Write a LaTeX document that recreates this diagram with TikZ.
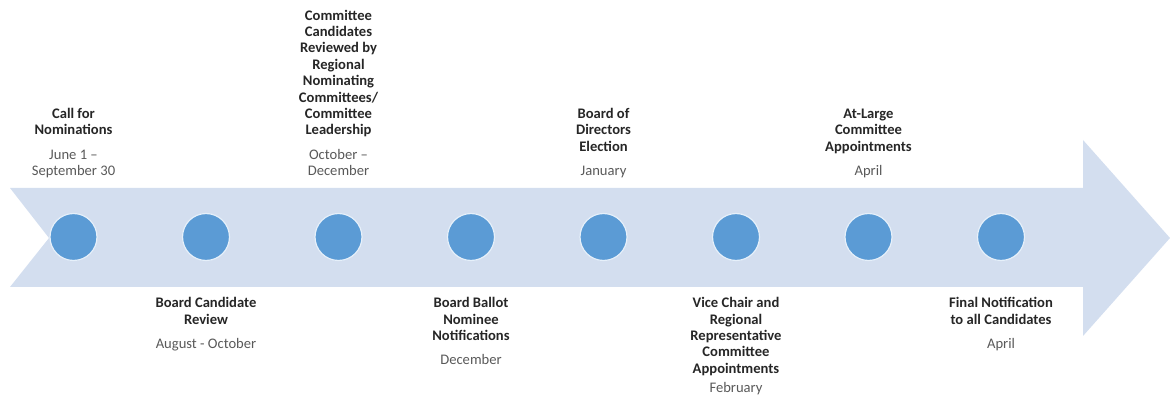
\documentclass[tikz,border=0pt]{standalone}
\usepackage{fontspec}
\setmainfont{Carlito}
\usetikzlibrary{positioning}
\definecolor{arrowfill}{HTML}{D3DEEF}
\definecolor{dotfill}{HTML}{5B9BD5}
\definecolor{dotrim}{HTML}{E6F0FA}
\definecolor{titlegray}{HTML}{262626}
\definecolor{dategray}{HTML}{595959}
\tikzstyle{dot}=[circle, draw=dotrim, line width=1.2pt, fill=dotfill, minimum size=47pt, inner sep=0pt]
\tikzstyle{stagetitle}=[align=center, inner sep=0pt, text=titlegray, font=\fontsize{14.6}{16.4}\selectfont\bfseries]
\tikzstyle{stagedate}=[align=center, inner sep=0pt, text=dategray, font=\fontsize{14.6}{16.4}\selectfont]

\begin{document}
\begin{tikzpicture}[x=1pt,y=1pt]
  \useasboundingbox (0,0) rectangle (1170,-395);
  % timeline arrow
  \fill[arrowfill] (10,-188) -- (1083,-188) -- (1083,-140) -- (1170,-238)
    -- (1083,-336) -- (1083,-287) -- (10,-287) -- (49,-238) -- cycle;

  % dots
  \node[dot] (c1) at (73.5,-237) {};
  \node[dot] (c2) at (206,-237) {};
  \node[dot] (c3) at (338.5,-237) {};
  \node[dot] (c4) at (471,-237) {};
  \node[dot] (c5) at (603.5,-237) {};
  \node[dot] (c6) at (736,-237) {};
  \node[dot] (c7) at (868.5,-237) {};
  \node[dot] (c8) at (1001,-237) {};

  % labels above
  \node[stagedate, above=32pt of c1] (d1) {\strut June 1 --\\September 30\strut};
  \node[stagetitle, above=7.6pt of d1] (t1) {\strut Call for\\Nominations\strut};
  \node[stagedate, above=32pt of c3] (d3) {\strut October --\\December\strut};
  \node[stagetitle, above=7.6pt of d3] (t3) {\strut Committee\\Candidates\\Reviewed by\\Regional\\Nominating\\Committees/\\Committee\\Leadership\strut};
  \node[stagedate, above=32pt of c5] (d5) {\strut January\strut};
  \node[stagetitle, above=7.6pt of d5] (t5) {\strut Board of\\Directors\\Election\strut};
  \node[stagedate, above=32pt of c7] (d7) {\strut April\strut};
  \node[stagetitle, above=7.6pt of d7] (t7) {\strut At-Large\\Committee\\Appointments\strut};

  % labels below
  \node[stagetitle, below=35pt of c2] (t2) {\strut Board Candidate\\Review\strut};
  \node[stagedate, below=7.6pt of t2] (d2) {\strut August - October\strut};
  \node[stagetitle, below=35pt of c4] (t4) {\strut Board Ballot\\Nominee\\Notifications\strut};
  \node[stagedate, below=7.6pt of t4] (d4) {\strut December\strut};
  \node[stagetitle, below=35pt of c6] (t6) {\strut Vice Chair and\\Regional\\Representative\\Committee\\Appointments\strut};
  \node[stagedate, below=2pt of t6] (d6) {\strut February\strut};
  \node[stagetitle, below=35pt of c8] (t8) {\strut Final Notification\\to all Candidates\strut};
  \node[stagedate, below=7.6pt of t8] (d8) {\strut April\strut};
\end{tikzpicture}
\end{document}
